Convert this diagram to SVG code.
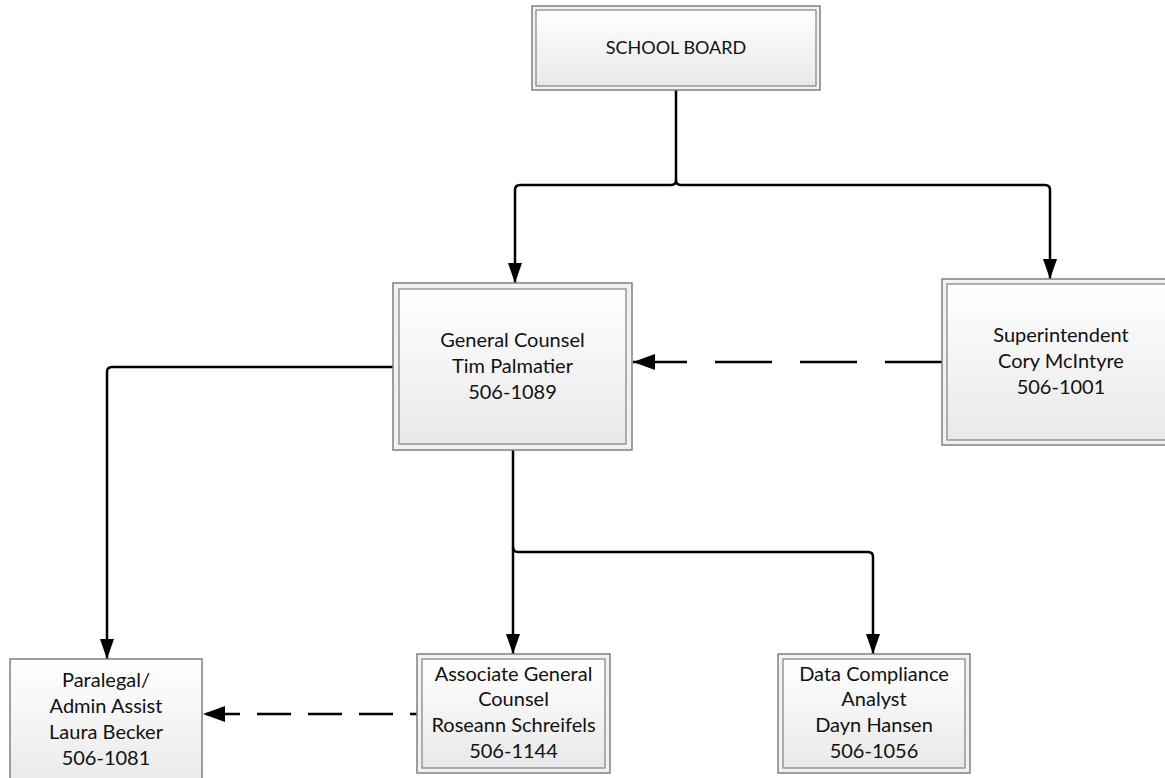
<svg xmlns="http://www.w3.org/2000/svg" width="1165" height="778" viewBox="0 0 1165 778">
<defs>
<linearGradient id="g" x1="0" y1="0" x2="0" y2="1">
<stop offset="0" stop-color="#ffffff"/>
<stop offset="1" stop-color="#e9e9e9"/>
</linearGradient>
<marker id="ah" viewBox="0 0 20 14" refX="20" refY="7" markerWidth="20" markerHeight="14" markerUnits="userSpaceOnUse" orient="auto">
<path d="M0,0 L20,7 L0,14 Z" fill="#000"/>
</marker>
<marker id="ah2" viewBox="0 0 22 16" refX="22" refY="8" markerWidth="22" markerHeight="16" markerUnits="userSpaceOnUse" orient="auto">
<path d="M0,0 L22,8 L0,16 Z" fill="#000"/>
</marker>
</defs>
<style>
.outer{fill:#f2f2f2;stroke:#808080;stroke-width:1.5}
.inner{fill:url(#g);stroke:#808080;stroke-width:1.2}
.single{fill:url(#g);stroke:#808080;stroke-width:1.5}
text{font-family:Lato,"Liberation Sans",sans-serif;font-size:20px;fill:#111;text-anchor:middle}
.sb{font-size:18px}
.c{fill:none;stroke:#000;stroke-width:2.5}
.d{fill:none;stroke:#000;stroke-width:2.5}
</style>
<rect width="1165" height="778" fill="#fff"/>
<g id="connectors">
<path class="c" d="M676,90 V180 Q676,185 671,185 H520 Q515,185 515,190 V283" marker-end="url(#ah)"/>
<path class="c" d="M676,180 Q676,185 681,185 H1045 Q1050,185 1050,190 V279" marker-end="url(#ah)"/>
<path class="c" d="M513,450 V654" marker-end="url(#ah)"/>
<path class="c" d="M513,547 Q513,552 518,552 H868 Q873,552 873,557 V654" marker-end="url(#ah)"/>
<path class="c" d="M393,367 H112 Q107,367 107,372 V659" marker-end="url(#ah)"/>
<path class="d" d="M942,362 H633" stroke-dasharray="57 28" stroke-dashoffset="0" marker-end="url(#ah2)"/>
<path class="d" d="M417,714 H203" stroke-dasharray="34 17" stroke-dashoffset="27" marker-end="url(#ah2)"/>
</g>
<g id="school-board">
<rect class="outer" x="532" y="6" width="288" height="84"/>
<rect class="inner" x="536" y="10" width="280" height="76"/>
<text class="sb" x="676" y="54">SCHOOL BOARD</text>
</g>
<g id="general-counsel">
<rect class="outer" x="393" y="283" width="239" height="167"/>
<rect class="inner" x="399" y="289" width="227" height="155"/>
<text x="512.5" y="347">General Counsel</text>
<text x="512.5" y="373">Tim Palmatier</text>
<text x="512.5" y="399">506-1089</text>
</g>
<g id="superintendent">
<rect class="outer" x="942" y="279" width="239" height="166"/>
<rect class="inner" x="947" y="284" width="229" height="156"/>
<text x="1061" y="342">Superintendent</text>
<text x="1061" y="368">Cory McIntyre</text>
<text x="1061" y="394">506-1001</text>
</g>
<g id="paralegal">
<rect class="single" x="10" y="659" width="192" height="130"/>
<text x="106" y="687">Paralegal/</text>
<text x="106" y="713">Admin Assist</text>
<text x="106" y="739">Laura Becker</text>
<text x="106" y="765">506-1081</text>
</g>
<g id="associate-general-counsel">
<rect class="outer" x="417" y="654" width="193" height="119"/>
<rect class="inner" x="422" y="659" width="183" height="109"/>
<text x="513.5" y="681">Associate General</text>
<text x="513.5" y="706">Counsel</text>
<text x="513.5" y="732">Roseann Schreifels</text>
<text x="513.5" y="758">506-1144</text>
</g>
<g id="data-compliance-analyst">
<rect class="outer" x="778" y="654" width="192" height="119"/>
<rect class="inner" x="783" y="659" width="182" height="109"/>
<text x="874" y="681">Data Compliance</text>
<text x="874" y="706">Analyst</text>
<text x="874" y="732">Dayn Hansen</text>
<text x="874" y="758">506-1056</text>
</g>
</svg>
